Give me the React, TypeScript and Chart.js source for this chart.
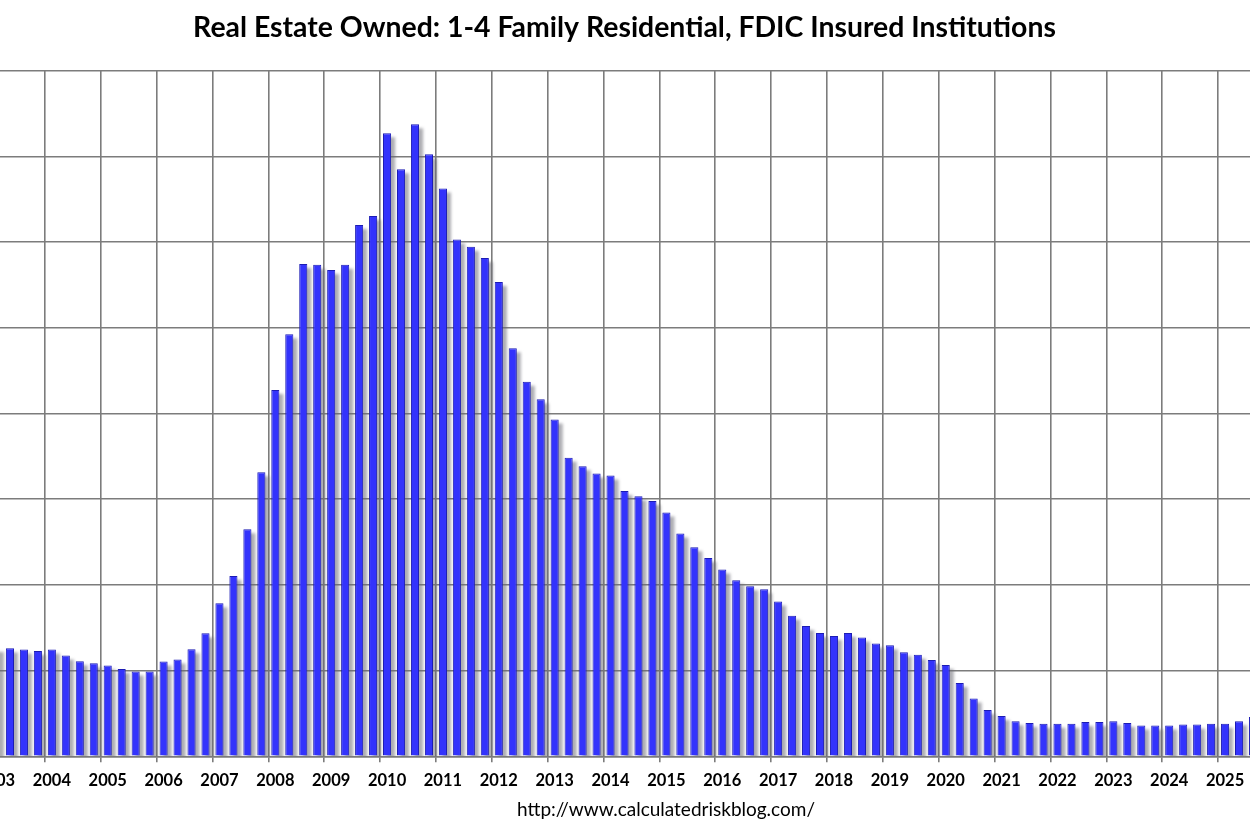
import React, { useEffect, useRef } from 'react';
import { Chart, registerables } from 'chart.js';

Chart.register(...registerables);

// ---- Data (billions of dollars, quarterly) ----
const years = [
  2003, 2004, 2005, 2006, 2007, 2008, 2009, 2010, 2011, 2012, 2013, 2014,
  2015, 2016, 2017, 2018, 2019, 2020, 2021, 2022, 2023, 2024, 2025,
];
const quarterNames = ['Q1', 'Q2', 'Q3', 'Q4'];
const reoBillions = [
  2.53, 2.52, 2.49, 2.46, // 2003
  2.49, 2.35, 2.22, 2.17, // 2004
  2.12, 2.04, 1.98, 1.98, // 2005
  2.21, 2.26, 2.50, 2.87, // 2006
  3.57, 4.21, 5.30, 6.63, // 2007
  8.55, 9.85, 11.49, 11.47, // 2008
  11.35, 11.47, 12.40, 12.61, // 2009
  14.54, 13.70, 14.75, 14.05, // 2010
  13.25, 12.06, 11.89, 11.63, // 2011
  11.07, 9.52, 8.74, 8.33, // 2012
  7.86, 6.97, 6.77, 6.60, // 2013
  6.55, 6.19, 6.07, 5.96, // 2014
  5.69, 5.20, 4.88, 4.63, // 2015
  4.36, 4.11, 3.97, 3.90, // 2016
  3.61, 3.28, 3.04, 2.88, // 2017
  2.81, 2.88, 2.77, 2.63, // 2018
  2.59, 2.43, 2.37, 2.25, // 2019
  2.13, 1.71, 1.35, 1.08, // 2020
  0.94, 0.82, 0.78, 0.76, // 2021
  0.76, 0.76, 0.80, 0.80, // 2022
  0.82, 0.78, 0.72, 0.72, // 2023
  0.72, 0.74, 0.74, 0.76, // 2024
  0.76, 0.82, 0.92, // 2025
];
const yMin = 0;
const yMax = 16;
const yStep = 2;
const chartTitle = 'Real Estate Owned: 1-4 Family Residential, FDIC Insured Institutions';
const sourceUrl = 'http://www.calculatedriskblog.com/';

const categories = reoBillions.map(
  (_, i) => `${years[Math.floor(i / 4)]} ${quarterNames[i % 4]}`
);

const GRID = '#7c7c7c';

const shadowPlugin = {
  id: 'barShadow',
  beforeDatasetsDraw(chart: any) {
    const { ctx, chartArea } = chart;
    const meta = chart.getDatasetMeta(0);
    ctx.save();
    ctx.beginPath();
    ctx.rect(chartArea.left, chartArea.top, chartArea.right - chartArea.left + 20, chartArea.bottom - chartArea.top);
    ctx.clip();
    ctx.fillStyle = 'rgba(105,105,115,0.55)';
    ctx.filter = 'blur(1.6px)';
    meta.data.forEach((bar: any) => {
      const { x, y, base, width } = bar.getProps(['x', 'y', 'base', 'width'], true);
      ctx.fillRect(x - width / 2 + 4, y + 4, width, base - y);
    });
    ctx.restore();
  },
};

const sourcePlugin = {
  id: 'sourceText',
  afterDraw(chart: any) {
    const { ctx, chartArea } = chart;
    ctx.save();
    ctx.font = '19px Lato';
    ctx.fillStyle = '#000';
    ctx.textAlign = 'center';
    ctx.textBaseline = 'alphabetic';
    ctx.fillText(sourceUrl, chartArea.left + 677, chartArea.bottom + 60);
    ctx.restore();
  },
};

export default function App() {
  const ref = useRef<HTMLCanvasElement>(null);

  useEffect(() => {
    const chart = new Chart(ref.current as HTMLCanvasElement, {
      type: 'bar',
      data: {
        labels: categories,
        datasets: [
          {
            data: reoBillions,
            backgroundColor: '#3333fc',
            borderColor: '#1c1cb4',
            borderWidth: 1,
            barPercentage: 0.58,
            categoryPercentage: 1,
          },
        ],
      },
      options: {
        responsive: false,
        animation: false,
        devicePixelRatio: 1,
        layout: { padding: { left: 7, right: 0, top: 0, bottom: 31.7 } },
        plugins: {
          legend: { display: false },
          tooltip: { enabled: false },
          title: {
            display: true,
            text: chartTitle,
            color: '#000',
            font: { family: 'Lato', size: 28.4, weight: 'bold' },
            padding: { top: 11, bottom: 25.6 },
          },
        },
        scales: {
          x: {
            type: 'category',
            offset: true,
            grid: {
              offset: true,
              color: (c: any) => (typeof c.index === 'number' && c.index % 4 === 0 ? GRID : 'rgba(0,0,0,0)'),
              lineWidth: 1.6,
              drawTicks: true,
              tickLength: 6,
            },
            border: { display: true, color: GRID, width: 1.6 },
            ticks: {
              autoSkip: false,
              maxRotation: 0,
              minRotation: 0,
              padding: 8,
              color: '#000',
              font: { family: 'Lato', size: 16.5, weight: 'bold' },
              callback: (_v: any, i: number) => (i % 4 === 0 ? String(years[i / 4]) : ''),
            },
            afterFit: (s: any) => {
              s.paddingLeft = 0;
              s.paddingRight = 0;
              s.height = 45;
            },
          },
          y: {
            min: yMin,
            max: yMax,
            ticks: { display: false, stepSize: yStep },
            grid: { color: GRID, lineWidth: 1.6, drawTicks: false },
            border: { display: false },
            afterFit: (s: any) => {
              s.width = 0;
            },
          },
        },
      },
      plugins: [shadowPlugin, sourcePlugin],
    });
    return () => chart.destroy();
  }, []);

  return (
    <div
      style={{
        position: 'absolute',
        left: 0,
        top: 0,
        width: 1250,
        height: 833,
        overflow: 'hidden',
        background: '#fff',
      }}
    >
      <canvas
        ref={ref}
        width={1278}
        height={833}
        style={{ position: 'absolute', left: -18, top: 0 }}
      />
    </div>
  );
}
